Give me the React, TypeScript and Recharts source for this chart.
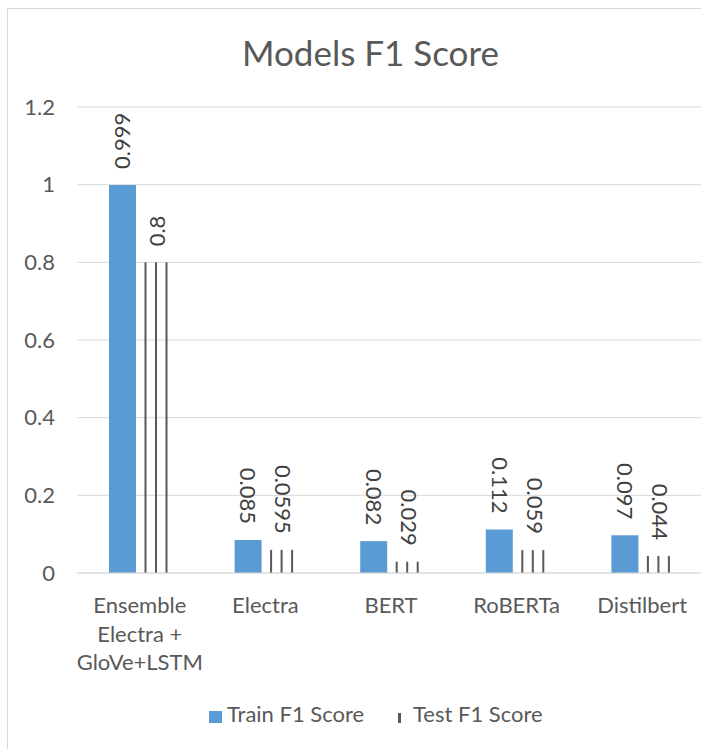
import React from 'react';
import { Bar, BarChart, CartesianGrid, LabelList, Legend, XAxis, YAxis } from 'recharts';

const categories = ['Ensemble\nElectra +\nGloVe+LSTM', 'Electra', 'BERT', 'RoBERTa', 'Distilbert'];
const trainF1 = [0.999, 0.085, 0.082, 0.112, 0.097];
const testF1 = [0.8, 0.0595, 0.029, 0.059, 0.044];
const yTicks = [0, 0.2, 0.4, 0.6, 0.8, 1, 1.2];

const data = categories.map((name, i) => ({ name, train: trainF1[i], test: testF1[i] }));

const FONT = 'Lato, "Open Sans", sans-serif';
const TEXT = '#595959';

function CategoryTick(props: any) {
  const { x, y, payload } = props;
  const lines = String(payload.value).split('\n');
  return (
    <text x={x} y={y} textAnchor="middle" fontSize={22} fill={TEXT} fontFamily={FONT}>
      {lines.map((l, i) => (
        <tspan key={i} x={x} dy={i === 0 ? 40 : 28.5}>
          {l}
        </tspan>
      ))}
    </text>
  );
}

// excel-style rotated value labels; first group reads upward, rest downward
function VerticalLabel(props: any) {
  const vb = props.viewBox || {};
  const x = Number(vb.x ?? props.x);
  const y = Number(vb.y ?? props.y);
  const w = Number(vb.width ?? props.width);
  const cx = x + w / 2;
  const up = props.index === 0;
  const ty = y - 16;
  return (
    <text
      x={cx}
      y={ty}
      transform={`rotate(${up ? -90 : 90} ${cx} ${ty})`}
      textAnchor={up ? 'start' : 'end'}
      dy="0.35em"
      fontSize={22}
      fill="#404040"
      fontFamily={FONT}
    >
      {props.value}
    </text>
  );
}

function StripedBar(props: any) {
  const { x, y, width, height } = props;
  if (!height) return null;
  const lines = [];
  for (let lx = x + 0.5; lx + 2 <= x + width; lx += 10.5) {
    lines.push(<rect key={lx} x={lx} y={y} width={2} height={height} fill="#595959" />);
  }
  return <g>{lines}</g>;
}

function LegendBox() {
  const txt: React.CSSProperties = {
    position: 'absolute',
    top: 0,
    lineHeight: '30px',
    fontSize: 22,
    color: TEXT,
    fontFamily: FONT,
    whiteSpace: 'nowrap',
  };
  return (
    <div style={{ position: 'relative', height: 30, width: '100%' }}>
      <div style={{ position: 'absolute', left: 209, top: 12, width: 13, height: 12, background: '#5B9BD5' }} />
      <div style={{ ...txt, left: 227 }}>Train F1 Score</div>
      <div style={{ position: 'absolute', left: 398, top: 14, width: 3, height: 10, background: '#595959' }} />
      <div style={{ ...txt, left: 413 }}>Test F1 Score</div>
    </div>
  );
}

export default function App() {
  return (
    <div
      style={{
        position: 'absolute',
        left: 0,
        top: 0,
        width: 701,
        height: 749,
        overflow: 'hidden',
        background: '#fff',
        fontFamily: FONT,
      }}
    >
      <div
        style={{
          position: 'absolute',
          left: 7,
          top: 8,
          width: 760,
          height: 760,
          border: '1px solid #d9d9d9',
        }}
      />
      <div
        style={{
          position: 'absolute',
          left: 0,
          top: 31,
          width: 741,
          textAlign: 'center',
          fontSize: 35,
          lineHeight: '42px',
          color: TEXT,
        }}
      >
        Models F1 Score
      </div>
      <div style={{ position: 'absolute', left: 0, top: 0 }}>
        <BarChart
          width={720}
          height={749}
          data={data}
          margin={{ top: 107, right: 15, bottom: 20, left: 0 }}
          barGap={8}
        >
          <CartesianGrid horizontal vertical={false} stroke="#d9d9d9" />
          <XAxis
            dataKey="name"
            height={126}
            interval={0}
            tickLine={false}
            tickSize={0}
            tickMargin={0}
            axisLine={{ stroke: '#d9d9d9' }}
            tick={<CategoryTick />}
          />
          <YAxis
            width={77}
            domain={[0, 1.2]}
            ticks={yTicks}
            axisLine={false}
            tickLine={false}
            tickSize={0}
            tickMargin={22}
            tick={{ fill: TEXT, fontSize: 22, fontFamily: FONT }}
          />
          <Legend verticalAlign="bottom" content={() => <LegendBox />} />
          <Bar dataKey="train" name="Train F1 Score" fill="#5B9BD5" barSize={27} isAnimationActive={false}>
            <LabelList dataKey="train" content={<VerticalLabel />} />
          </Bar>
          <Bar dataKey="test" name="Test F1 Score" barSize={27} shape={<StripedBar />} isAnimationActive={false}>
            <LabelList dataKey="test" content={<VerticalLabel />} />
          </Bar>
        </BarChart>
      </div>
    </div>
  );
}
